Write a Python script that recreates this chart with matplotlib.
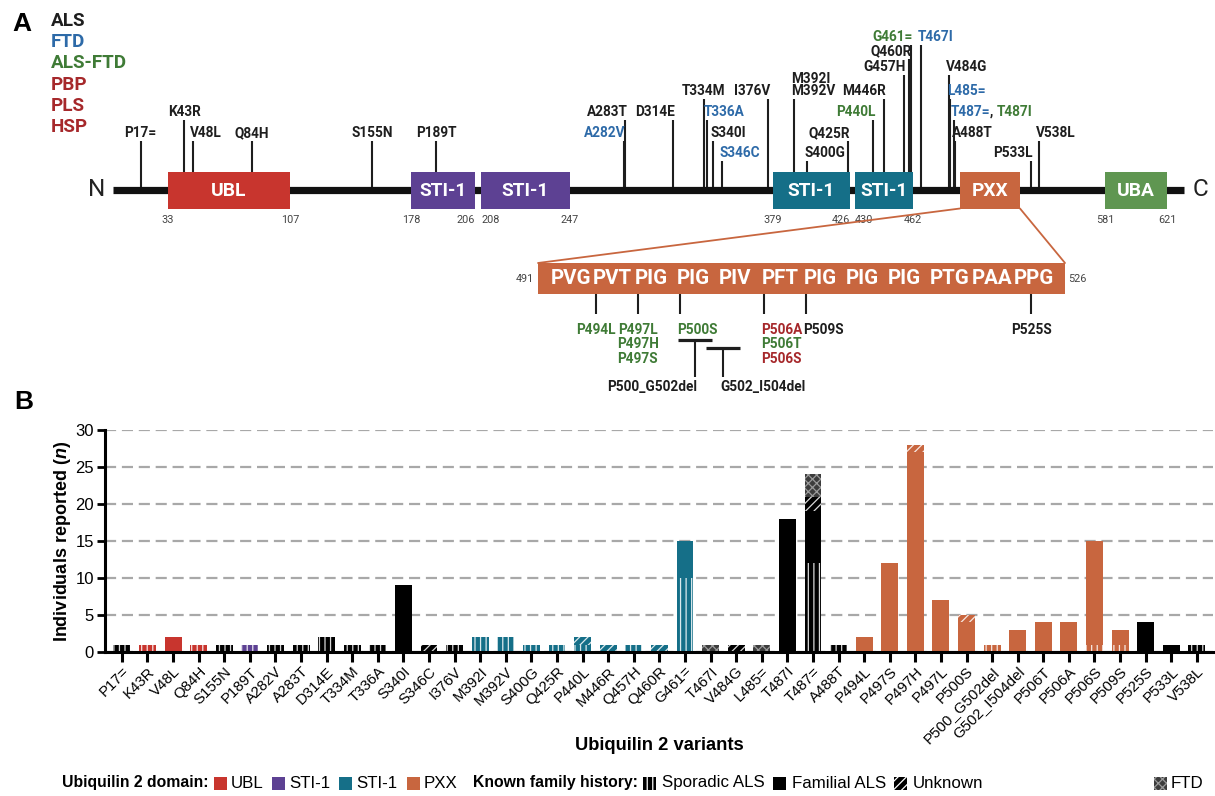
import numpy as np
import matplotlib
matplotlib.use("Agg")
import matplotlib.pyplot as plt
from matplotlib.patches import Rectangle, ConnectionPatch
from matplotlib.transforms import blended_transform_factory as blend

plt.rcParams['font.family'] = ['Liberation Sans', 'DejaVu Sans']
plt.rcParams['hatch.linewidth'] = 0.9
plt.rcParams['mathtext.fontset'] = 'custom'
plt.rcParams['mathtext.it'] = 'Liberation Sans:italic:bold'
plt.rcParams['mathtext.rm'] = 'Liberation Sans:bold'

# ------------------------------------------------------------------ data
# Panel A
disease_labels = ['ALS', 'FTD', 'ALS-FTD', 'PBP', 'PLS', 'HSP']
domain_names = ['UBL', 'STI-1', 'STI-1', 'STI-1', 'STI-1', 'PXX', 'UBA']
domain_start = [33, 178, 208, 379, 430, 491, 581]
domain_end = [107, 206, 247, 426, 462, 526, 621]
protein_length = 624

variant_labels_a = ['P17=', 'K43R', 'V48L', 'Q84H', 'S155N', 'P189T', 'A282V', 'A283T',
                    'D314E', 'T334M', 'T336A', 'S340I', 'S346C', 'I376V', 'M392I', 'M392V',
                    'S400G', 'Q425R', 'P440L', 'M446R', 'G457H', 'Q460R', 'G461=', 'T467I',
                    'V484G', 'L485=', 'T487=', 'A488T', 'P533L', 'V538L']
variant_residue_a = [17, 43, 48, 84, 155, 189, 282, 283, 314, 334, 336, 340, 346, 376, 392, 392,
                     400, 425, 440, 446, 457, 460, 461, 467, 484, 485, 487, 488, 533, 538]
variant_pheno_a = ['ALS', 'ALS', 'ALS', 'ALS', 'ALS', 'ALS', 'FTD', 'ALS', 'ALS', 'ALS', 'FTD',
                   'ALS', 'FTD', 'ALS', 'ALS', 'ALS', 'ALS', 'ALS', 'ALS-FTD', 'ALS', 'ALS', 'ALS',
                   'ALS-FTD', 'FTD', 'ALS', 'FTD', 'FTD', 'ALS', 'ALS', 'ALS']
extra_label_a = 'T487I'          # shares position 487 with T487=
extra_pheno_a = 'ALS-FTD'

pxx_triplets = ['PVG', 'PVT', 'PIG', 'PIG', 'PIV', 'PFT', 'PIG', 'PIG', 'PIG', 'PTG', 'PAA', 'PPG']
pxx_labels = ['P494L', 'P497L', 'P497H', 'P497S', 'P500S', 'P506A', 'P506T', 'P506S', 'P509S', 'P525S']
pxx_residue = [494, 497, 497, 497, 500, 506, 506, 506, 509, 525]
pxx_pheno = ['ALS-FTD', 'ALS-FTD', 'ALS-FTD', 'ALS-FTD', 'ALS-FTD', 'PLS', 'ALS-FTD', 'PLS', 'ALS', 'ALS']
deletion_labels = ['P500_G502del', 'G502_I504del']
deletion_start = [500, 502]
deletion_end = [502, 504]

# Panel B
variants_b = ['P17=', 'K43R', 'V48L', 'Q84H', 'S155N', 'P189T', 'A282V', 'A283T', 'D314E',
              'T334M', 'T336A', 'S340I', 'S346C', 'I376V', 'M392I', 'M392V', 'S400G', 'Q425R',
              'P440L', 'M446R', 'Q457H', 'Q460R', 'G461=', 'T467I', 'V484G', 'L485=', 'T487I',
              'T487=', 'A488T', 'P494L', 'P497S', 'P497H', 'P497L', 'P500S', 'P500_G502del',
              'G502_I504del', 'P506T', 'P506A', 'P506S', 'P509S', 'P525S', 'P533L', 'V538L']
domain_b = (['none', 'UBL', 'UBL', 'UBL', 'none', 'STI-1a'] + ['none'] * 8 + ['STI-1b'] * 9
            + ['none'] * 6 + ['PXX'] * 11 + ['none'] * 3)
sporadic = [1, 1, 0, 1, 1, 1, 1, 1, 2, 1, 1, 0, 0, 1, 2, 2, 1, 1, 1, 0, 1, 0, 10, 0, 0, 0, 0, 12,
            1, 0, 0, 0, 0, 0, 1, 0, 0, 0, 1, 1, 0, 0, 1]
familial = [0, 0, 2, 0, 0, 0, 0, 0, 0, 0, 0, 9, 0, 0, 0, 0, 0, 0, 0, 0, 0, 0, 5, 0, 0, 0, 18, 7,
            0, 2, 12, 27, 7, 4, 0, 3, 4, 4, 14, 2, 4, 1, 0]
unknown = [0, 0, 0, 0, 0, 0, 0, 0, 0, 0, 0, 0, 1, 0, 0, 0, 0, 0, 1, 1, 0, 1, 0, 0, 1, 0, 0, 2,
           0, 0, 0, 1, 0, 1, 0, 0, 0, 0, 0, 0, 0, 0, 0]
ftd = [0, 0, 0, 0, 0, 0, 0, 0, 0, 0, 0, 0, 0, 0, 0, 0, 0, 0, 0, 0, 0, 0, 0, 1, 0, 1, 0, 3,
       0, 0, 0, 0, 0, 0, 0, 0, 0, 0, 0, 0, 0, 0, 0]

# ------------------------------------------------------------------ styles
W, H = 1215, 796
pheno_color = {'ALS': '#1e1e1e', 'FTD': '#2d6aa8', 'ALS-FTD': '#3f7b36',
               'PBP': '#a6282b', 'PLS': '#a6282b', 'HSP': '#a6282b'}
dom_color = {'UBL': '#c8352e', 'STI-1a': '#5d4193', 'STI-1b': '#156f88',
             'PXX': '#c8663f', 'UBA': '#5f9651', 'none': '#000000'}
domain_key = ['UBL', 'STI-1a', 'STI-1a', 'STI-1b', 'STI-1b', 'PXX', 'UBA']
fa = dict(family=['Roboto', 'DejaVu Sans'], fontweight='bold')
LFS = 9.8

fig = plt.figure(figsize=(W / 100, H / 100), dpi=100, facecolor='white')

# ------------------------------------------------------------------ panel A
# schematic (not-to-scale) residue axis: breakpoints at the domain boundaries
res_anchor = [-70, 1, 33, 107, 178, 206, 208, 247, 379, 426, 430, 462, 491, 526, 581, 621, 624, 700]
px_anchor = [0, 113, 168, 290, 411, 475, 481, 570, 773, 850, 855, 913, 960, 1020, 1105, 1167, 1184, 1300]
fwd = lambda r: np.interp(r, res_anchor, px_anchor)
inv = lambda p: np.interp(p, px_anchor, res_anchor)

topH = 400
ax_a = fig.add_axes([0, (H - topH) / H, 1, topH / H])
ax_a.set_xscale('function', functions=(fwd, inv))
ax_a.set_xlim(inv(0), inv(W))
ax_a.set_ylim(topH, 0)
ax_a.axis('off')

line_y = 190
ax_a.plot([1, protein_length], [line_y, line_y], color='#111111', lw=5.2,
          solid_capstyle='butt', zorder=2)
ax_a.annotate('N', (1, line_y), xytext=(-8, 0), textcoords='offset pixels', ha='right',
              va='center', fontsize=17.5, color='#222222', family=['Roboto', 'DejaVu Sans'])
ax_a.annotate('C', (protein_length, line_y), xytext=(9, 0), textcoords='offset pixels',
              ha='left', va='center', fontsize=17.5, color='#222222', family=['Roboto', 'DejaVu Sans'])

box_h = 37
for name, s, e, k in zip(domain_names, domain_start, domain_end, domain_key):
    ax_a.add_patch(Rectangle((s, line_y - box_h / 2), e - s, box_h, facecolor=dom_color[k],
                             edgecolor='none', zorder=3))
    ax_a.text((s + e) / 2, line_y + 1, name, ha='center', va='center', color='white',
              fontsize=13.8, zorder=4, **fa)
num_align = {206: 'right', 208: 'left', 426: 'right', 430: 'left'}
for s, e in zip(domain_start, domain_end):
    if s == 491:
        continue
    for v in (s, e):
        ax_a.text(v, line_y + 30, str(v), ha=num_align.get(v, 'center'), va='center',
                  fontsize=7.8, color='#444444', family=['Roboto', 'DejaVu Sans'])

level_y = {1: 37, 2: 51, 3: 67, 4: 79, 5: 91, 6: 112, 7: 133, 8: 153}
a_level = [7, 6, 7, 7, 7, 7, 7, 6, 6, 5, 6, 7, 8, 5, 4, 5, 8, 7, 6, 5, 3, 2, 1, 1, 3, 5, 6, 7, 8, 7]
a_align = ['center', 'center', 'left', 'center', 'center', 'center', 'right', 'right', 'right',
           'center', 'left', 'left', 'left', 'right', 'left', 'left', 'left', 'right', 'right',
           'right', 'right', 'right', 'right', 'left', 'left', 'left', 'left', 'left', 'right', 'left']
off = {'left': -3, 'right': 2, 'center': 0}
stem_top = {}
t487 = None
for lab, r, ph, lv, al in zip(variant_labels_a, variant_residue_a, variant_pheno_a, a_level, a_align):
    y = level_y[lv]
    stem_top[r] = max(stem_top.get(r, 0), y + 8)
    t = ax_a.annotate(lab, (r, y), xytext=(off[al], 0), textcoords='offset pixels', ha=al,
                      va='center', fontsize=LFS, color=pheno_color[ph], **fa)
    if lab == 'T487=':
        t487 = t
tc = ax_a.annotate(', ', (1, 0.5), xycoords=t487, ha='left', va='center', fontsize=LFS,
                   color=pheno_color['ALS'], **fa)
ax_a.annotate(extra_label_a, (1, 0.5), xycoords=tc, ha='left', va='center', fontsize=LFS,
              color=pheno_color[extra_pheno_a], **fa)
rs = sorted(stem_top)
ax_a.vlines(rs, [stem_top[r] for r in rs], line_y, color='#1e1e1e', lw=1.5, zorder=1)

# disease legend + panel letter
for i, lab in enumerate(disease_labels):
    fig.text(51 / W, 1 - (21 + 21.2 * i) / H, lab, ha='left', va='center', fontsize=13.6,
             color=pheno_color[lab], **fa)
fig.text(12 / W, 1 - 24 / H, 'A', ha='left', va='center', fontsize=19, fontweight='bold')
fig.text(14 / W, 1 - 402 / H, 'B', ha='left', va='center', fontsize=19, fontweight='bold')

# PXX expansion
ax_e = fig.add_axes([538 / W, (H - topH) / H, (1065 - 538) / W, topH / H])
ax_e.set_xlim(489.9, 527.4)
ax_e.set_ylim(topH, 0)
ax_e.axis('off')
bt = blend(ax_e.transAxes, ax_e.transData)
ex_top, ex_h = 263, 31
ax_e.add_patch(Rectangle((0, ex_top), 1, ex_h, transform=bt, facecolor=dom_color['PXX'],
                         edgecolor='none', zorder=2))
for k, trip in enumerate(pxx_triplets):
    ax_e.annotate(trip, (491 + 3 * k, ex_top + ex_h / 2), xytext=(-3, 0),
                  textcoords='offset pixels', ha='left', va='center', color='white',
                  fontsize=14.8, zorder=3, **fa)
ax_e.text(-0.008, ex_top + ex_h / 2, '491', transform=bt, ha='right', va='center',
          fontsize=7.8, color='#444444', family=['Roboto', 'DejaVu Sans'])
ax_e.text(1.006, ex_top + ex_h / 2, '526', transform=bt, ha='left', va='center',
          fontsize=7.8, color='#444444', family=['Roboto', 'DejaVu Sans'])
for xa, xb in ((domain_start[5], 0), (domain_end[5], 1)):
    con = ConnectionPatch(xyA=(xa, line_y + box_h / 2), coordsA=ax_a.transData,
                          xyB=(xb, ex_top), coordsB=bt, color=dom_color['PXX'], lw=1.3)
    fig.add_artist(con)

row_y = [330, 344.5, 359]
pxx_row = [0, 0, 1, 2, 0, 0, 1, 2, 0, 0]
pxx_align = ['center', 'center', 'center', 'center', 'left', 'left', 'left', 'left', 'left', 'center']
ax_e.vlines(sorted(set(pxx_residue)), ex_top + ex_h, 314, color='#1e1e1e', lw=1.5)
for lab, r, ph, rw, al in zip(pxx_labels, pxx_residue, pxx_pheno, pxx_row, pxx_align):
    ax_e.annotate(lab, (r, row_y[rw]), xytext=(off[al], 0), textcoords='offset pixels', ha=al,
                  va='center', fontsize=LFS, color=pheno_color[ph], **fa)
del_y = [340, 348]
for i, (lab, s, e) in enumerate(zip(deletion_labels, deletion_start, deletion_end)):
    a0, a1 = s - 0.15, e + 0.25
    mid = (a0 + a1) / 2
    ax_e.hlines(del_y[i], a0, a1, color='#1e1e1e', lw=2.3)
    ax_e.vlines(mid, del_y[i], 377, color='#1e1e1e', lw=1.5)
    al = 'right' if i == 0 else 'left'
    ax_e.annotate(lab, (mid, 387), xytext=(2 if i == 0 else -2, 0), textcoords='offset pixels',
                  ha=al, va='center', fontsize=LFS, color=pheno_color['ALS'], **fa)

# ------------------------------------------------------------------ panel B
axb = fig.add_axes([105 / W, (H - 652) / H, (1213 - 105) / W, 222 / H])
n = len(variants_b)
x = np.arange(n)
base_cols = [dom_color[d] for d in domain_b]
bottom = np.zeros(n)
light = (1, 1, 1, 0.85)
layers = [(sporadic, '|||', None), (familial, None, None), (unknown, '////', None),
          (ftd, 'xxxx', '#3c3c3c')]
for vals, hatch, face in layers:
    vals = np.asarray(vals, dtype=float)
    fc = [face if face else c for c in base_cols]
    ec = ['#9a9a9a' if face else light for _ in base_cols]
    axb.bar(x, vals, width=0.66, bottom=bottom, color=fc, edgecolor=ec if hatch else fc,
            hatch=hatch, linewidth=0, zorder=2)
    bottom += vals

axb.set_xlim(-0.66, n - 1 + 0.63)
axb.set_ylim(0, 30)
axb.set_yticks(np.arange(0, 31, 5))
axb.yaxis.grid(True, linestyle=(0, (5, 2.6)), color='#a8a8a8', lw=1.6)
axb.set_axisbelow(True)
for s in ('top', 'right'):
    axb.spines[s].set_visible(False)
for s in ('left', 'bottom'):
    axb.spines[s].set_linewidth(2.2)
axb.set_xticks(x)
axb.set_xticklabels(variants_b, rotation=45, ha='right', rotation_mode='anchor', fontsize=10.8)
axb.tick_params(axis='x', length=7, width=2.2, pad=2)
axb.tick_params(axis='y', length=6, width=2.0, labelsize=12, pad=2)
axb.set_ylabel('Individuals reported ($\\mathit{n}$)', fontsize=13, fontweight='bold')
axb.yaxis.label.set_verticalalignment('center')
axb.yaxis.set_label_coords(-0.0388, 0.5)
axb.set_xlabel('Ubiquilin 2 variants', fontsize=13.2, fontweight='bold')
axb.xaxis.label.set_verticalalignment('center')
axb.xaxis.set_label_coords(0.5, -0.419)

# ------------------------------------------------------------------ bottom legend
lax = fig.add_axes([0, 0, 1, 1])
lax.set_xlim(0, W)
lax.set_ylim(H, 0)
lax.axis('off')
ren = fig.canvas.get_renderer()
leg_y = 783
sq = 13


def put_text(xx, s, bold=False):
    t = lax.text(xx, leg_y, s, fontsize=11.3 if bold else 12.2,
                 fontweight='bold' if bold else 'normal', va='center', ha='left')
    return xx + t.get_window_extent(renderer=ren).width


def put_swatch(xx, face, hatch=None, hcol=None):
    lax.add_patch(Rectangle((xx, leg_y - sq / 2), sq, sq, facecolor=face, hatch=hatch,
                            edgecolor=hcol if hcol else face, lw=0))
    return xx + sq


cx = 62
cx = put_text(cx, 'Ubiquilin 2 domain:', True) + 5
for lab, k in zip(['UBL', 'STI-1', 'STI-1', 'PXX'], ['UBL', 'STI-1a', 'STI-1b', 'PXX']):
    cx = put_swatch(cx, dom_color[k]) + 4
    cx = put_text(cx, lab) + 9
cx += 7
cx = put_text(cx, 'Known family history:', True) + 5
for lab, hatch in zip(['Sporadic ALS', 'Familial ALS', 'Unknown'], ['|||', None, '////']):
    cx = put_swatch(cx, '#000000', hatch, 'white' if hatch else None) + 6
    cx = put_text(cx, lab) + 8
tf = lax.text(0, 0, 'FTD', fontsize=12.2)
wf = tf.get_window_extent(renderer=ren).width
tf.remove()
fx = 1203 - wf - sq - 3
put_swatch(fx, '#3c3c3c', 'xxxx', '#9a9a9a')
put_text(fx + sq + 3, 'FTD')

fig.savefig('out.png', dpi=100, facecolor='white')
